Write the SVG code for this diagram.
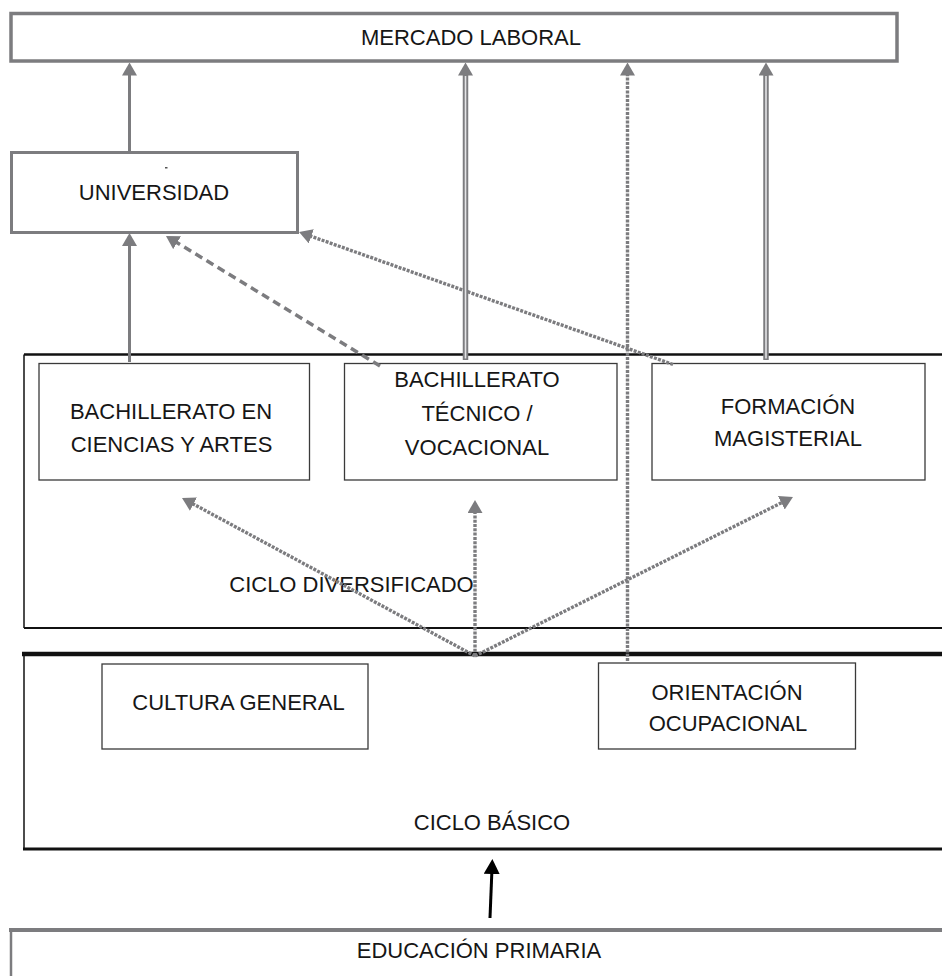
<svg xmlns="http://www.w3.org/2000/svg" width="942" height="976" viewBox="0 0 942 976">
  <defs>
    <style>
      text { font-family: "Liberation Sans", Arial, sans-serif; font-size: 22px; fill: #161616; text-anchor: middle; }
      .frame-gray { fill: #ffffff; stroke: #7c7c7f; }
      .inner { fill: #ffffff; stroke: #3a3a3a; stroke-width: 1.3; }
      .edge { fill: none; stroke: #111111; }
      .solid { fill: none; stroke: #7c7c7f; stroke-width: 3; }
      .double-out { fill: none; stroke: #7c7c7f; stroke-width: 5.5; }
      .double-in { fill: none; stroke: #e4e4e6; stroke-width: 1.6; }
      .dashed { fill: none; stroke: #7c7c7f; stroke-width: 3.5; stroke-dasharray: 8 5; }
      .hatch { fill: none; stroke: #7c7c7f; stroke-width: 3.4; stroke-dasharray: 3 1.3; }
    </style>
    <!-- gray arrowhead: tip sits 6px beyond the path end -->
    <marker id="ah" markerUnits="userSpaceOnUse" viewBox="0 0 13 15" markerWidth="13" markerHeight="15" refX="7" refY="7.5" orient="auto">
      <path d="M0,0 L13,7.5 L0,15 z" fill="#7c7c7f"/>
    </marker>
    <!-- black arrowhead for the primary-to-basic link -->
    <marker id="ah-black" markerUnits="userSpaceOnUse" viewBox="0 0 15 16" markerWidth="15" markerHeight="16" refX="8" refY="8" orient="auto">
      <path d="M0,0 L15,8 L0,16 z" fill="#000000"/>
    </marker>
  </defs>

  <rect x="0" y="0" width="942" height="976" fill="#ffffff"/>

  <!-- top level: labour market -->
  <g id="mercado-laboral">
    <rect class="frame-gray" x="11" y="13.5" width="886" height="47.5" stroke-width="3.5"/>
    <text x="471" y="45">MERCADO LABORAL</text>
  </g>

  <g id="universidad">
    <rect class="frame-gray" x="11.5" y="152.5" width="286" height="80" stroke-width="3"/>
    <rect x="165" y="167" width="2.5" height="1.5" fill="#555555"/>
    <text x="154" y="200">UNIVERSIDAD</text>
  </g>

  <!-- diversified cycle: frame open on the right -->
  <g id="ciclo-diversificado">
    <path class="edge" d="M942,354.5 H24" stroke-width="2.6"/>
    <path class="edge" d="M24,354.5 V628" stroke-width="1.5"/>
    <path class="edge" d="M24,628 H942" stroke="#2a2a2a" stroke-width="2"/>
    <text x="351.5" y="591.5">CICLO DIVERSIFICADO</text>
  </g>

  <g id="bachillerato-ciencias-artes">
    <rect class="inner" x="39" y="363.5" width="270.5" height="116.5"/>
    <text x="171" y="419">BACHILLERATO EN</text>
    <text x="171.5" y="452">CIENCIAS Y ARTES</text>
  </g>

  <g id="bachillerato-tecnico">
    <rect class="inner" x="344.5" y="363.5" width="272.5" height="116.5"/>
    <text x="477" y="387">BACHILLERATO</text>
    <text x="477" y="421">TÉCNICO /</text>
    <text x="477" y="455">VOCACIONAL</text>
  </g>

  <g id="formacion-magisterial">
    <rect class="inner" x="652" y="363.5" width="273" height="116.5"/>
    <text x="788" y="414">FORMACIÓN</text>
    <text x="788" y="446">MAGISTERIAL</text>
  </g>

  <!-- basic cycle: frame open on the right -->
  <g id="ciclo-basico">
    <path class="edge" d="M942,654 H22" stroke-width="4.5"/>
    <path class="edge" d="M24,654 V849" stroke-width="1.5"/>
    <path class="edge" d="M23,849 H942" stroke-width="3"/>
    <text x="492" y="830">CICLO BÁSICO</text>
  </g>

  <g id="cultura-general">
    <rect class="inner" x="102" y="664" width="266" height="85"/>
    <text x="238.5" y="710">CULTURA GENERAL</text>
  </g>

  <g id="orientacion-ocupacional">
    <rect class="inner" x="598.5" y="663" width="257" height="86"/>
    <text x="727" y="700">ORIENTACIÓN</text>
    <text x="728" y="731">OCUPACIONAL</text>
  </g>

  <g id="educacion-primaria">
    <path d="M9,930 H942" fill="none" stroke="#7c7c7f" stroke-width="4"/>
    <path d="M11,930 V976" fill="none" stroke="#7c7c7f" stroke-width="2.5"/>
    <text x="479" y="958">EDUCACIÓN PRIMARIA</text>
  </g>

  <!-- connectors -->
  <g id="connectors">
    <!-- university to labour market -->
    <path class="solid" d="M129.5,151 V68.5" marker-end="url(#ah)"/>
    <!-- sciences & arts to university -->
    <path class="solid" d="M129.5,362 V239" marker-end="url(#ah)"/>
    <!-- technical to university (dashed) -->
    <path class="dashed" d="M380,366 L171.1,239.1" marker-end="url(#ah)"/>
    <!-- teacher training to university -->
    <path class="hatch" d="M673,364.5 L304.7,234" marker-end="url(#ah)"/>
    <!-- technical to labour market (double line) -->
    <path class="double-out" d="M465.5,360 V68.5" marker-end="url(#ah)"/>
    <path class="double-in" d="M465.5,358.5 V76"/>
    <!-- teacher training to labour market (double line) -->
    <path class="double-out" d="M766,360 V68.5" marker-end="url(#ah)"/>
    <path class="double-in" d="M766,358.5 V76"/>
    <!-- occupational orientation to labour market -->
    <path class="hatch" d="M627.5,661 V68.5" marker-end="url(#ah)"/>
    <!-- basic cycle fan-out to the three tracks -->
    <path class="hatch" d="M475,656 L187.3,500.8" marker-end="url(#ah)"/>
    <path class="hatch" d="M475,656 V506" marker-end="url(#ah)"/>
    <path class="hatch" d="M475,656 L787.6,499.7" marker-end="url(#ah)"/>
    <!-- primary education to basic cycle -->
    <path d="M490,918 L492.1,866" fill="none" stroke="#000000" stroke-width="3" marker-end="url(#ah-black)"/>
  </g>
</svg>
